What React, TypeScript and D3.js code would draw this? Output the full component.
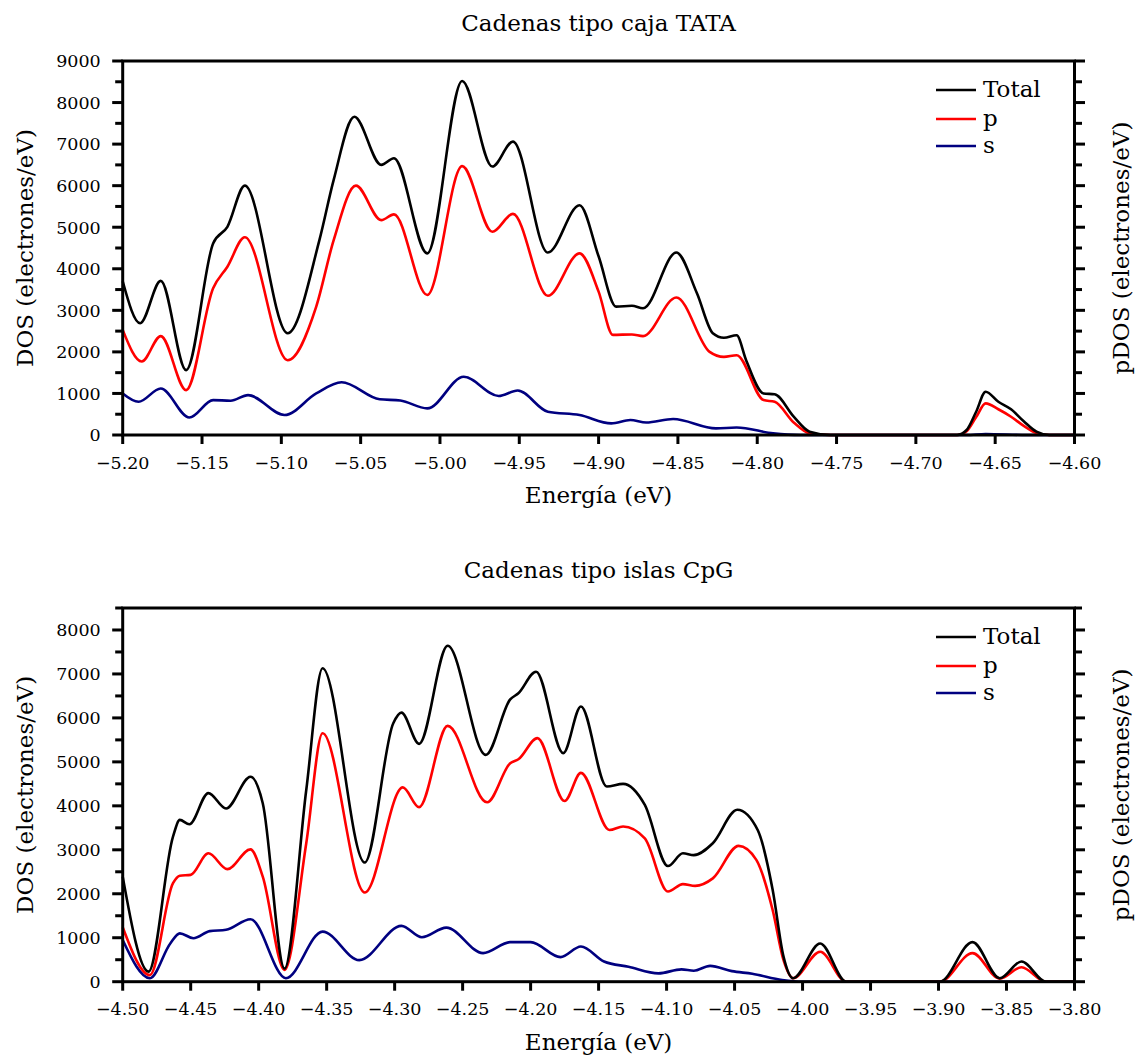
import React, { useEffect, useRef } from 'react';
import * as d3 from 'd3';

type Pt = [number, number];

// Cadenas tipo caja TATA  [energy (eV), DOS]
const tataTotal: Pt[] = [
  [-5.2, 3700], [-5.189, 2690], [-5.176, 3710], [-5.16, 1560], [-5.143, 4610], [-5.134, 5010],
  [-5.123, 6000], [-5.096, 2450], [-5.076, 4690], [-5.067, 6140], [-5.054, 7660], [-5.037, 6500],
  [-5.029, 6660], [-5.008, 4370], [-4.986, 8520], [-4.967, 6460], [-4.954, 7060], [-4.932, 4390],
  [-4.912, 5530], [-4.9, 4300], [-4.889, 3090], [-4.879, 3110], [-4.872, 3050], [-4.851, 4390],
  [-4.838, 3410], [-4.828, 2450], [-4.821, 2340], [-4.813, 2400], [-4.807, 1800], [-4.796, 1000],
  [-4.789, 980], [-4.777, 440], [-4.767, 80], [-4.754, 0], [-4.674, 0], [-4.668, 120],
  [-4.662, 560], [-4.656, 1040], [-4.648, 800], [-4.64, 620], [-4.632, 330], [-4.624, 80],
  [-4.616, 0], [-4.6, 0],
];
const tataP: Pt[] = [
  [-5.2, 2530], [-5.188, 1770], [-5.176, 2380], [-5.16, 1080], [-5.143, 3530], [-5.134, 4050],
  [-5.123, 4760], [-5.096, 1800], [-5.078, 3090], [-5.067, 4690], [-5.053, 6000], [-5.037, 5170],
  [-5.029, 5310], [-5.008, 3370], [-4.986, 6470], [-4.967, 4890], [-4.954, 5320], [-4.932, 3350],
  [-4.912, 4370], [-4.9, 3450], [-4.891, 2410], [-4.879, 2420], [-4.872, 2380], [-4.851, 3310],
  [-4.83, 2000], [-4.821, 1880], [-4.813, 1920], [-4.796, 840], [-4.789, 800], [-4.777, 300],
  [-4.767, 40], [-4.754, 0], [-4.674, 0], [-4.668, 90], [-4.662, 430], [-4.656, 760],
  [-4.648, 620], [-4.64, 440], [-4.632, 220], [-4.624, 50], [-4.616, 0], [-4.6, 0],
];
const tataS: Pt[] = [
  [-5.2, 1000], [-5.19, 800], [-5.176, 1120], [-5.158, 420], [-5.143, 840], [-5.132, 825],
  [-5.121, 960], [-5.098, 480], [-5.078, 1000], [-5.062, 1270], [-5.038, 860], [-5.025, 830],
  [-5.008, 640], [-4.985, 1400], [-4.963, 940], [-4.951, 1070], [-4.932, 560], [-4.912, 480],
  [-4.892, 280], [-4.88, 360], [-4.87, 300], [-4.853, 385], [-4.826, 160], [-4.813, 180],
  [-4.79, 40], [-4.773, 0], [-4.668, 0], [-4.656, 25], [-4.63, 0], [-4.6, 0],
];

// Cadenas tipo islas CpG
const cpgTotal: Pt[] = [
  [-4.5, 2390], [-4.481, 230], [-4.463, 3300], [-4.458, 3680], [-4.451, 3580], [-4.437, 4290],
  [-4.424, 3940], [-4.406, 4660], [-4.397, 4060], [-4.381, 300], [-4.365, 4360], [-4.353, 7130],
  [-4.322, 2710], [-4.301, 5880], [-4.295, 6120], [-4.282, 5410], [-4.261, 7640], [-4.233, 5160],
  [-4.215, 6420], [-4.209, 6560], [-4.196, 7050], [-4.176, 5200], [-4.163, 6260], [-4.144, 4440],
  [-4.132, 4500], [-4.116, 4020], [-4.099, 2630], [-4.088, 2920], [-4.08, 2880], [-4.066, 3150],
  [-4.048, 3910], [-4.033, 3450], [-4.022, 2090], [-4.014, 570], [-4.007, 80], [-3.987, 870],
  [-3.968, 0], [-3.899, 0], [-3.875, 900], [-3.855, 80], [-3.839, 460], [-3.821, 0], [-3.8, 0],
];
const cpgP: Pt[] = [
  [-4.5, 1240], [-4.48, 150], [-4.463, 2240], [-4.458, 2410], [-4.45, 2430], [-4.437, 2920],
  [-4.423, 2560], [-4.406, 3010], [-4.397, 2390], [-4.381, 270], [-4.365, 3150], [-4.353, 5650],
  [-4.322, 2030], [-4.294, 4420], [-4.282, 3970], [-4.261, 5820], [-4.232, 4080], [-4.215, 4970],
  [-4.209, 5060], [-4.195, 5540], [-4.175, 4110], [-4.163, 4750], [-4.142, 3450], [-4.132, 3530],
  [-4.116, 3260], [-4.099, 2050], [-4.088, 2220], [-4.079, 2180], [-4.066, 2350], [-4.047, 3090],
  [-4.034, 2770], [-4.022, 1630], [-4.014, 490], [-4.007, 80], [-3.987, 680], [-3.968, 0],
  [-3.899, 0], [-3.875, 650], [-3.855, 70], [-3.839, 330], [-3.821, 0], [-3.8, 0],
];
const cpgS: Pt[] = [
  [-4.5, 950], [-4.48, 80], [-4.465, 870], [-4.458, 1100], [-4.448, 990], [-4.436, 1150],
  [-4.424, 1180], [-4.406, 1420], [-4.38, 80], [-4.353, 1140], [-4.326, 490], [-4.295, 1270],
  [-4.28, 1010], [-4.262, 1230], [-4.235, 650], [-4.215, 900], [-4.2, 900], [-4.178, 560],
  [-4.163, 800], [-4.146, 460], [-4.128, 340], [-4.106, 190], [-4.089, 280], [-4.08, 250],
  [-4.068, 360], [-4.052, 240], [-4.037, 180], [-4.015, 40], [-4.0, 0], [-3.8, 0],
];

const tataXTicks = [-5.2, -5.15, -5.1, -5.05, -5.0, -4.95, -4.9, -4.85, -4.8, -4.75, -4.7, -4.65, -4.6];
const cpgXTicks = [-4.5, -4.45, -4.4, -4.35, -4.3, -4.25, -4.2, -4.15, -4.1, -4.05, -4.0, -3.95, -3.9, -3.85, -3.8];

const legendNames = ['Total', 'p', 's'];
const colors = ['#000000', '#ff0000', '#000080'];

const FONT = '"DejaVu Serif", serif';
const L = 122.7;
const R = 1074.5;

type PanelCfg = {
  title: string;
  top: number;
  bottom: number;
  xDomain: [number, number];
  xTicks: number[];
  yMax: number;
  series: Pt[][];
};

function drawPanel(svg: d3.Selection<SVGSVGElement, unknown, null, undefined>, cfg: PanelCfg) {
  const g = svg.append('g');
  const x = d3.scaleLinear().domain(cfg.xDomain).range([L, R]);
  const y = d3.scaleLinear().domain([0, cfg.yMax]).range([cfg.bottom, cfg.top]);
  const line = d3.line<Pt>()
    .x(d => x(d[0]))
    .y(d => y(d[1]))
    .curve(d3.curveMonotoneX);

  // draw s first so total ends on top
  cfg.series.slice().reverse().forEach((s, i) => {
    g.append('path')
      .attr('d', line(s))
      .attr('fill', 'none')
      .attr('stroke', colors[cfg.series.length - 1 - i])
      .attr('stroke-width', 2.6)
      .attr('stroke-linejoin', 'round');
  });

  // frame
  g.append('rect')
    .attr('x', L).attr('y', cfg.top)
    .attr('width', R - L).attr('height', cfg.bottom - cfg.top)
    .attr('fill', 'none').attr('stroke', '#000').attr('stroke-width', 3);

  // y ticks, both sides, major every 1000
  const yTicks = d3.range(0, cfg.yMax + 1, 500);
  yTicks.forEach(v => {
    const major = v % 1000 === 0;
    const len = major ? 10.5 : 7.5;
    g.append('line').attr('x1', L - len).attr('x2', L).attr('y1', y(v)).attr('y2', y(v))
      .attr('stroke', '#000').attr('stroke-width', 3);
    g.append('line').attr('x1', R).attr('x2', R + len).attr('y1', y(v)).attr('y2', y(v))
      .attr('stroke', '#000').attr('stroke-width', 3);
    if (major) {
      g.append('text').attr('x', L - 22).attr('y', y(v)).attr('dy', '0.36em')
        .attr('text-anchor', 'end').attr('font-size', 17.5).attr('font-family', FONT)
        .text(String(v));
    }
  });

  // x ticks
  const fmt = d3.format('.2f');
  cfg.xTicks.forEach(v => {
    g.append('line').attr('x1', x(v)).attr('x2', x(v)).attr('y1', cfg.bottom).attr('y2', cfg.bottom + 9)
      .attr('stroke', '#000').attr('stroke-width', 3);
    g.append('text').attr('x', x(v)).attr('y', cfg.bottom + 33.5)
      .attr('text-anchor', 'middle').attr('font-size', 17.5).attr('font-family', FONT)
      .text(fmt(v));
  });

  const mid = (cfg.top + cfg.bottom) / 2;
  g.append('text').attr('x', (L + R) / 2).attr('y', cfg.top - 30)
    .attr('text-anchor', 'middle').attr('font-size', 23).attr('font-family', FONT)
    .text(cfg.title);
  g.append('text').attr('x', (L + R) / 2).attr('y', cfg.bottom + 68)
    .attr('text-anchor', 'middle').attr('font-size', 23).attr('font-family', FONT)
    .text('Energía (eV)');
  g.append('text').attr('transform', `translate(33,${mid}) rotate(-90)`)
    .attr('text-anchor', 'middle').attr('font-size', 23).attr('font-family', FONT)
    .text('DOS (electrones/eV)');
  g.append('text').attr('transform', `translate(1129,${mid}) rotate(-90)`)
    .attr('text-anchor', 'middle').attr('font-size', 23).attr('font-family', FONT)
    .text('pDOS (electrones/eV)');

  // legend
  legendNames.forEach((name, i) => {
    const ly = cfg.top + [29, 58, 85][i];
    g.append('line').attr('x1', 936).attr('x2', 976).attr('y1', ly).attr('y2', ly)
      .attr('stroke', colors[i]).attr('stroke-width', 2.7);
    g.append('text').attr('x', 983).attr('y', ly + 7)
      .attr('font-size', 23).attr('font-family', FONT)
      .text(name);
  });
}

const App = () => {
  const svgRef = useRef<SVGSVGElement>(null);

  useEffect(() => {
    const svg = d3.select(svgRef.current!);
    svg.selectAll('*').remove();
    drawPanel(svg, {
      title: 'Cadenas tipo caja TATA',
      top: 61, bottom: 435,
      xDomain: [-5.2, -4.6], xTicks: tataXTicks,
      yMax: 9000,
      series: [tataTotal, tataP, tataS],
    });
    drawPanel(svg, {
      title: 'Cadenas tipo islas CpG',
      top: 608, bottom: 981.7,
      xDomain: [-4.5, -3.8], xTicks: cpgXTicks,
      yMax: 8500,
      series: [cpgTotal, cpgP, cpgS],
    });
  }, []);

  return (
    <svg ref={svgRef} width={1139} height={1059}
      style={{ position: 'absolute', left: 0, top: 0, background: '#fff' }} />
  );
};

export default App;
